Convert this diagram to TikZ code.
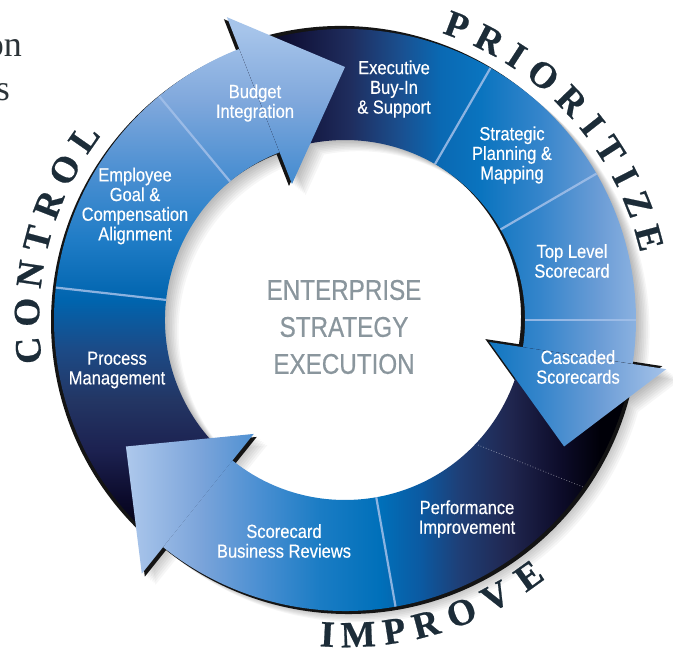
\documentclass[tikz,border=0pt]{standalone}
\usepackage{fontspec}
\setmainfont{Liberation Serif}
\newfontfamily\lblfont[FakeStretch=0.87,FakeBold=0.35]{Liberation Sans}
\newfontfamily\ctrfont[FakeStretch=0.85,FakeBold=0.5]{Liberation Sans}
\newfontfamily\bigfont[BoldFeatures={FakeBold=0.6}]{Liberation Serif}
% PRIORITIZE colours
\definecolor{pA}{HTML}{07061F}\definecolor{pB}{HTML}{12153D}\definecolor{pC}{HTML}{1F2D5E}
\definecolor{pD}{HTML}{1A4F8F}\definecolor{pE}{HTML}{0A69B3}\definecolor{pF}{HTML}{0A74BF}
\definecolor{pG}{HTML}{3585CB}\definecolor{pH}{HTML}{6C9DD6}\definecolor{pI}{HTML}{A4C2E9}
% CONTROL colours
\definecolor{cA}{HTML}{00000C}\definecolor{cB}{HTML}{0B0A2A}\definecolor{cC}{HTML}{1C2150}
\definecolor{cD}{HTML}{233664}\definecolor{cE}{HTML}{1C4A86}\definecolor{cF}{HTML}{0064AE}
\definecolor{cG}{HTML}{1F7CC6}\definecolor{cH}{HTML}{4D90D2}\definecolor{cI}{HTML}{80A8DC}
\definecolor{cJ}{HTML}{A6C4EA}
% IMPROVE colours
\definecolor{iA}{HTML}{ADC8EC}\definecolor{iB}{HTML}{7BA4DA}\definecolor{iC}{HTML}{4A8FD2}
\definecolor{iD}{HTML}{1A7CC4}\definecolor{iE}{HTML}{0070BA}\definecolor{iF}{HTML}{0B5AA2}
\definecolor{iG}{HTML}{1F3E75}\definecolor{iH}{HTML}{20264F}\definecolor{iI}{HTML}{0D0C2A}
\definecolor{iJ}{HTML}{000008}
\definecolor{sepc}{HTML}{A3C0E9}
\definecolor{bigc}{HTML}{1C2C38}
\definecolor{ctrc}{HTML}{8A969D}
\definecolor{pagec}{HTML}{2B3338}
\definecolor{rimc}{HTML}{141414}
\pgfdeclarehorizontalshading{prioSh}{100bp}{color(0bp)=(pA); color(44.3bp)=(pA); color(47.3bp)=(pB); color(51bp)=(pC); color(54.7bp)=(pD); color(57.7bp)=(pE); color(60.7bp)=(pF); color(65.1bp)=(pG); color(69.6bp)=(pH); color(74.4bp)=(pI); color(100bp)=(pI)}
\pgfdeclareverticalshading{ctrlSh}{100bp}{color(0bp)=(cA); color(33.3bp)=(cA); color(36.7bp)=(cB); color(40.5bp)=(cC); color(44.4bp)=(cD); color(48.2bp)=(cE); color(52bp)=(cF); color(56.6bp)=(cG); color(62bp)=(cH); color(67.3bp)=(cI); color(72.7bp)=(cJ); color(100bp)=(cJ)}
\pgfdeclarehorizontalshading{imprSh}{100bp}{color(0bp)=(iA); color(34.4bp)=(iA); color(39.9bp)=(iB); color(44.3bp)=(iC); color(48.8bp)=(iD); color(53.2bp)=(iE); color(56.2bp)=(iF); color(59.2bp)=(iG); color(62.9bp)=(iH); color(66.6bp)=(iI); color(69.6bp)=(iJ); color(100bp)=(iJ)}
% arrow shapes (relative to ring centre)
\def\bodyC{(231.3:180) -- (231.3:291) arc[start angle=231.3,end angle=111.3,radius=291] -- (111.3:180) arc[start angle=111.3,end angle=231.3,radius=180] -- cycle}
\def\headC{(111.3:325) -- (90:253) -- (111.3:146) -- cycle}
\def\bodyP{(111.3:180) -- (111.3:291) arc[start angle=111.3,end angle=-8.7,radius=291] -- (-8.7:180) arc[start angle=-8.7,end angle=111.3,radius=180] -- cycle}
\def\headP{(-8.7:325) -- (-30:253) -- (-8.7:146) -- cycle}
\def\bodyI{(-8.7:180) -- (-8.7:291) arc[start angle=-8.7,end angle=-128.7,radius=291] -- (-128.7:180) arc[start angle=-128.7,end angle=-8.7,radius=180] -- cycle}
\def\headI{(-128.7:325) -- (-150:253) -- (-128.7:146) -- cycle}
\def\canvas{(-345,-333) rectangle (328,320)}
\begin{document}
\begin{tikzpicture}[x=1pt,y=1pt,
  sep/.style={draw=sepc, line width=2.2pt, opacity=0.85},
  lbl/.style={text=white, font={\lblfont\fontsize{19}{19.7}\selectfont}, align=center, inner sep=0pt},
  bigl/.style={text=bigc, font={\bigfont\bfseries\fontsize{37}{37}\selectfont}, inner sep=0pt},
  ctr/.style={text=ctrc, font={\ctrfont\fontsize{28.5}{37}\selectfont}, align=center, inner sep=0pt},
  pagetext/.style={text=pagec, font={\fontsize{36}{36}\selectfont}, inner sep=0pt},
  rim/.style={fill=rimc},
  shadowstep/.style={fill=black, opacity=0.035}]
\useasboundingbox (0,0) rectangle (673,653);
\fill[white] (0,0) rectangle (673,653);
\node[pagetext, anchor=base east] (on) at (22,596) {on};
\node[pagetext, anchor=base east] (s) at (10,552) {s};
\begin{scope}[shift={(345,333)}]
  % soft drop shadow
  \foreach \k in {1,...,8}{
    \fill[shadowstep, shift={(1.7*\k,-1.4*\k)}] \bodyC \headC \bodyP \headP \bodyI \headI;
  }
  % dark rims
  \fill[rim, shift={(-3,-2)}] \bodyC \headC;
  \fill[rim, shift={(-4,3)}] \bodyP \headP;
  \fill[rim, shift={(3,-3)}] \bodyI \headI;
  % bodies
  \begin{scope}\clip \bodyC; \shade[shading=ctrlSh] \canvas; \end{scope}
  \begin{scope}\clip \bodyP; \shade[shading=prioSh] \canvas; \end{scope}
  \begin{scope}\clip \bodyI; \shade[shading=imprSh] \canvas; \end{scope}
  % separators
  \draw[sep] (129.7:180) -- (129.7:291);
  \draw[sep] (173.6:180) -- (173.6:291);
  \draw[sep] (60:180) -- (60:291);
  \draw[sep] (30.2:180) -- (30.2:291);
  \draw[sep] (0:180) -- (0:291);
  \draw[sep] (-80:180) -- (-80:291);
  \coordinate (d1) at (133,-125);
  \coordinate (d2) at (238,-167);
  \draw[white, opacity=0.45, line width=0.8pt, dotted] (d1) -- (d2);
  % heads
  \begin{scope}\clip \headC; \shade[shading=ctrlSh] \canvas; \end{scope}
  \begin{scope}\clip \headP; \shade[shading=prioSh] \canvas; \end{scope}
  \begin{scope}\clip \headI; \shade[shading=imprSh] \canvas; \end{scope}
  % labels
  \node[lbl] (budget) at (-90,217) {Budget\\Integration};
  \node[lbl] (employee) at (-210,114) {Employee\\Goal \&\\Compensation\\Alignment};
  \node[lbl] (process) at (-228,-50) {Process\\Management};
  \node[lbl] (exec) at (49,231) {Executive\\Buy-In\\\& Support};
  \node[lbl] (strat) at (167,165) {Strategic\\Planning \&\\Mapping};
  \node[lbl] (top) at (227,59) {Top Level\\Scorecard};
  \node[lbl] (casc) at (233,-47) {Cascaded\\Scorecards};
  \node[lbl] (perf) at (122,-199) {Performance\\Improvement};
  \node[lbl] (review) at (-61,-221) {Scorecard\\Business Reviews};
  \node[ctr] (centre) at (-1,-7) {ENTERPRISE\\STRATEGY\\EXECUTION};
  % ring words
  \foreach \a/\l [count=\i] in {69.2/P,62.7/R,57.0/I,51.0/O,44.0/R,38.2/I,32.7/T,27.1/I,21.6/Z,15.1/E}
    \node[bigl, rotate=\a-90] (pr\i) at (\a:315) {\l};
  \foreach \a/\l [count=\i] in {185.5/C,178.6/O,171.7/N,165.2/T,158.7/R,151.8/O,145.1/L}
    \node[bigl, rotate=\a-90] (co\i) at (\a:318) {\l};
  \foreach \a/\l [count=\i] in {-93.2/I,-87.6/M,-81.0/P,-75.1/R,-68.3/O,-61.4/V,-54.3/E}
    \node[bigl, rotate=\a+90] (im\i) at (\a:315) {\l};
\end{scope}
\end{tikzpicture}
\end{document}
